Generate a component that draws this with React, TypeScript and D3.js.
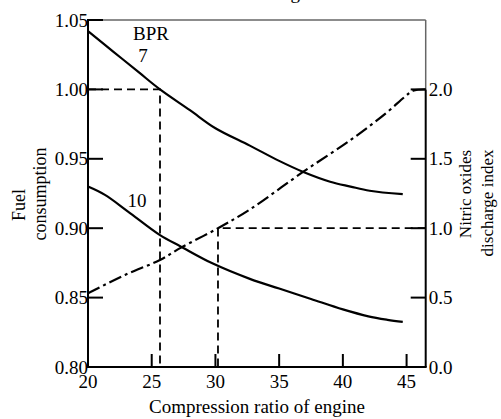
import React from 'react';
import * as d3 from 'd3';

// compression ratio vs fuel consumption (left) and NOx index (right)
const bpr7X = [20, 22, 24, 25.65, 28, 30, 32.7, 35, 36.9, 39, 40.6, 42.1, 44.7];
const bpr7Y = [1.042, 1.0271, 1.0122, 1.0, 0.985, 0.972, 0.9595, 0.9485, 0.9405, 0.9335, 0.93, 0.927, 0.9245];

const bpr10X = [20, 21.33, 23.14, 25.65, 27.3, 29.8, 32.7, 35, 37.5, 40, 42, 43.5, 44.7];
const bpr10Y = [0.93, 0.924, 0.912, 0.895, 0.8867, 0.8745, 0.8635, 0.8565, 0.849, 0.8415, 0.8365, 0.834, 0.8325];

const noxX = [20, 22.9, 25.65, 27.3, 30.2, 32.7, 36.9, 40.6, 43.4, 44.9, 45.5, 46.5];
const noxY = [0.531, 0.663, 0.771, 0.86, 1.0, 1.135, 1.407, 1.635, 1.83, 1.95, 1.99, 2.0];

const xTicks = [20, 25, 30, 35, 40, 45];
const leftTicks = [0.8, 0.85, 0.9, 0.95, 1.0, 1.05];
const rightTicks = [0, 0.5, 1.0, 1.5, 2.0];

// reference (dashed) readings
const refFuel = { x: 25.65, y: 1.0 };
const refNox = { x: 30.2, y: 1.0 };

const W = 501;
const H = 419;
const FONT = '"Liberation Serif", "Times New Roman", serif';

export default function App() {
  const x = d3.scaleLinear().domain([20, 46.5]).range([88, 425.7]);
  const yL = d3.scaleLinear().domain([0.8, 1.05]).range([367, 20]);
  const yR = d3.scaleLinear().domain([0, 2.0]).range([367, yL(1.0)]);

  const left = x(20);
  const right = x(46.5);
  const top = yL(1.05);
  const bottom = yL(0.8);

  const line = (xs: number[], ys: number[], y: d3.ScaleLinear<number, number>) =>
    d3
      .line<number>()
      .x((_, i) => x(xs[i]))
      .y((d) => y(d))
      .curve(d3.curveCatmullRom.alpha(0.5))(ys) || '';

  const fmt2 = d3.format('.2f');
  const fmt1 = d3.format('.1f');

  return (
    <svg
      width={W}
      height={H}
      style={{ position: 'absolute', left: 0, top: 0, background: '#fff' }}
      fontFamily={FONT}
    >
      <rect width={W} height={H} fill="#fff" />
      <text x={300} y={-1} fontSize={19} textAnchor="end">Cruise rating</text>

      {/* frame */}
      <line x1={left} x2={right} y1={top} y2={top} stroke="#666" strokeWidth={1.5} />
      <line x1={right} x2={right} y1={top} y2={yR(2.0)} stroke="#666" strokeWidth={1.5} />
      <line x1={right} x2={right} y1={yR(2.0)} y2={bottom} stroke="#000" strokeWidth={2} />
      <line x1={left} x2={left} y1={top - 1} y2={bottom + 1} stroke="#000" strokeWidth={2} />
      <line x1={left} x2={right + 1} y1={bottom} y2={bottom} stroke="#000" strokeWidth={2} />

      {/* left ticks */}
      {leftTicks.map((t) => (
        <g key={'l' + t}>
          <line x1={left} x2={left + 15} y1={yL(t)} y2={yL(t)} stroke="#000" strokeWidth={2} />
          <text x={left} y={yL(t)} dy="0.35em" fontSize={19} textAnchor="end">
            {fmt2(t)}
          </text>
        </g>
      ))}

      {/* right ticks */}
      {rightTicks.map((t) => (
        <g key={'r' + t}>
          <line x1={right - 15} x2={right} y1={yR(t)} y2={yR(t)} stroke="#000" strokeWidth={2} />
          <text x={right + 3} y={yR(t)} dy="0.35em" fontSize={19}>
            {fmt1(t)}
          </text>
        </g>
      ))}

      {/* bottom ticks */}
      {xTicks.map((t) => (
        <g key={'b' + t}>
          <line x1={x(t)} x2={x(t)} y1={bottom - 13} y2={bottom} stroke="#000" strokeWidth={2} />
          <text x={x(t)} y={388} fontSize={19} textAnchor="middle">
            {t}
          </text>
        </g>
      ))}

      {/* dashed reference lines */}
      <path
        d={`M${left},${yL(refFuel.y)}H${x(refFuel.x)}V${bottom}`}
        fill="none"
        stroke="#000"
        strokeWidth={1.8}
        strokeDasharray="8,5"
      />
      <path
        d={`M${right},${yR(refNox.y)}H${x(refNox.x)}V${bottom}`}
        fill="none"
        stroke="#000"
        strokeWidth={1.8}
        strokeDasharray="8,5"
      />

      {/* curves */}
      <path d={line(bpr7X, bpr7Y, yL)} fill="none" stroke="#000" strokeWidth={2.2} />
      <path d={line(bpr10X, bpr10Y, yL)} fill="none" stroke="#000" strokeWidth={2.2} />
      <path
        d={line(noxX, noxY, yR)}
        fill="none"
        stroke="#000"
        strokeWidth={2.2}
        strokeDasharray="13,4,3,4"
      />

      {/* curve labels */}
      <text x={151} y={40} fontSize={19} textAnchor="middle">BPR</text>
      <text x={143} y={62} fontSize={19} textAnchor="middle">7</text>
      <text x={137} y={207} fontSize={19} textAnchor="middle">10</text>

      {/* axis titles */}
      <text x={257} y={413} fontSize={19} textAnchor="middle">
        Compression ratio of engine
      </text>
      <g transform="translate(25,205) rotate(-90)">
        <text fontSize={18} textAnchor="middle">Fuel</text>
      </g>
      <g transform="translate(46,194) rotate(-90)">
        <text fontSize={18} textAnchor="middle">consumption</text>
      </g>
      <g transform="translate(471,194) rotate(-90)">
        <text fontSize={17} textAnchor="middle">Nitric oxides</text>
      </g>
      <g transform="translate(493,203) rotate(-90)">
        <text fontSize={17} textAnchor="middle">discharge index</text>
      </g>
    </svg>
  );
}
